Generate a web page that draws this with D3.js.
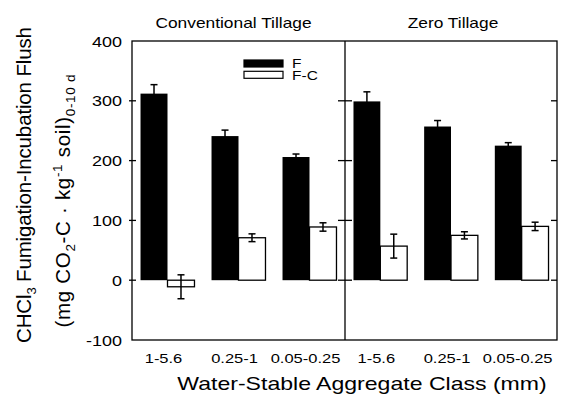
<!DOCTYPE html>
<html>
<head>
<meta charset="utf-8">
<script src="https://cdn.jsdelivr.net/npm/d3@7"></script>
<style>
  html, body { margin: 0; padding: 0; background: #fff; }
  svg { display: block; font-family: "Liberation Sans", Arial, sans-serif; }
</style>
</head>
<body>
<div id="chart"></div>
<script>
// data
const classes = ['1-5.6', '0.25-1', '0.05-0.25'];
const tillages = ['Conventional Tillage', 'Zero Tillage'];
const seriesNames = ['F', 'F-C'];

const fMean = [[312, 241, 206], [299, 257, 225]];
const fErr = [[15, 10, 5], [16, 10, 5]];
const fcMean = [[-11, 71, 89], [57, 75, 90]];
const fcErr = [[20, 6.5, 7], [20, 6, 7]];

const yTicks = [-100, 0, 100, 200, 300, 400];

const W = 561, H = 394;
const plotL = 132, plotM = 345, plotR = 557, plotT = 41, plotB = 340;
const SX = 1.24; // the original lettering is a bit wide

const svg = d3.select('#chart').append('svg')
  .attr('width', W).attr('height', H);

const y = d3.scaleLinear().domain([-100, 400]).range([plotB, plotT]);

const panels = [
  d3.scaleBand().domain(classes).range([plotL, plotM]).paddingInner(0.24).paddingOuter(0.12),
  d3.scaleBand().domain(classes).range([plotM, plotR]).paddingInner(0.24).paddingOuter(0.12)
];

function wideText(g, x, yy, str, size, anchor) {
  return g.append('text')
    .attr('transform', `translate(${x},${yy}) scale(${SX},1)`)
    .attr('text-anchor', anchor || 'middle')
    .style('font-size', size + 'px')
    .attr('fill', '#000')
    .text(str);
}

// bars
panels.forEach((x, p) => {
  const bw = x.bandwidth() / 2;
  const g = svg.append('g');
  classes.forEach((c, i) => {
    const x0 = x(c);
    // F
    g.append('rect')
      .attr('x', x0).attr('width', bw)
      .attr('y', y(fMean[p][i])).attr('height', y(0) - y(fMean[p][i]))
      .attr('fill', '#000');
    // F-C
    const v = fcMean[p][i];
    g.append('rect')
      .attr('x', x0 + bw).attr('width', bw)
      .attr('y', y(Math.max(0, v))).attr('height', Math.abs(y(0) - y(v)))
      .attr('fill', '#fff').attr('stroke', '#000').attr('stroke-width', 1.3);

    // error bars
    const errs = [[x0 + bw / 2, fMean[p][i], fErr[p][i]], [x0 + bw * 1.5, v, fcErr[p][i]]];
    errs.forEach(([cx, m, e]) => {
      g.append('line').attr('x1', cx).attr('x2', cx)
        .attr('y1', y(m - e)).attr('y2', y(m + e))
        .attr('stroke', '#000').attr('stroke-width', 1.5);
      [m - e, m + e].forEach(t => {
        g.append('line').attr('x1', cx - 3.5).attr('x2', cx + 3.5)
          .attr('y1', y(t)).attr('y2', y(t))
          .attr('stroke', '#000').attr('stroke-width', 1.5);
      });
    });

    // class label
    wideText(svg, x0 + x.bandwidth() / 2 - 4, 363, c, 13.3);
  });
  // panel title
  const [r0, r1] = x.range();
  wideText(svg, (r0 + r1) / 2 + (p === 0 ? -5 : 2), 28, tillages[p], 14);
});

// frame
svg.append('rect')
  .attr('x', plotL).attr('y', plotT).attr('width', plotR - plotL).attr('height', plotB - plotT)
  .attr('fill', 'none').attr('stroke', '#000').attr('stroke-width', 1.3);
svg.append('line')
  .attr('x1', plotM).attr('x2', plotM).attr('y1', plotT).attr('y2', plotB)
  .attr('stroke', '#000').attr('stroke-width', 1.3);

// ticks
const inner = yTicks.slice(1, -1);
inner.forEach(t => {
  const ty = y(t);
  [[plotL - 3, plotL + 4], [plotM - 7, plotM + 7], [plotR - 6, plotR]].forEach(([a, b]) => {
    svg.append('line').attr('x1', a).attr('x2', b).attr('y1', ty).attr('y2', ty)
      .attr('stroke', '#000').attr('stroke-width', 1.3);
  });
});
yTicks.forEach(t => {
  wideText(svg, 122, y(t) + 5.5, String(t), 14.5, 'end');
});

// legend
const legend = svg.append('g');
seriesNames.forEach((s, i) => {
  const ly = 60 + i * 11.3;
  legend.append('rect')
    .attr('x', 244).attr('y', ly).attr('width', 39).attr('height', 7)
    .attr('fill', i === 0 ? '#000' : '#fff')
    .attr('stroke', '#000').attr('stroke-width', 1.2);
  wideText(legend, 292, ly + 8.3, s, 12.5, 'start');
});

// axis titles
wideText(svg, 362, 390, 'Water-Stable Aggregate Class (mm)', 18.6);

const yl1 = svg.append('text')
  .attr('transform', 'translate(31,185) rotate(-90)')
  .attr('text-anchor', 'middle').style('font-size', '20.5px')
  .attr('textLength', 316).attr('lengthAdjust', 'spacing');
yl1.append('tspan').text('CHCl');
yl1.append('tspan').attr('dy', 5).style('font-size', '13px').text('3');
yl1.append('tspan').attr('dy', -5).text(' Fumigation-Incubation Flush');

const yl2 = svg.append('text')
  .attr('transform', 'translate(70,201) rotate(-90)')
  .attr('text-anchor', 'middle').style('font-size', '20.5px')
  .attr('textLength', 253).attr('lengthAdjust', 'spacing');
yl2.append('tspan').text('(mg CO');
yl2.append('tspan').attr('dy', 5).style('font-size', '13.5px').text('2');
yl2.append('tspan').attr('dy', -5).text('-C \u00b7 kg');
yl2.append('tspan').attr('dy', -8).style('font-size', '13.5px').text('-1');
yl2.append('tspan').attr('dy', 8).text(' soil)');
yl2.append('tspan').attr('dy', 5).style('font-size', '13.5px').text('0-10 d');
</script>
</body>
</html>
